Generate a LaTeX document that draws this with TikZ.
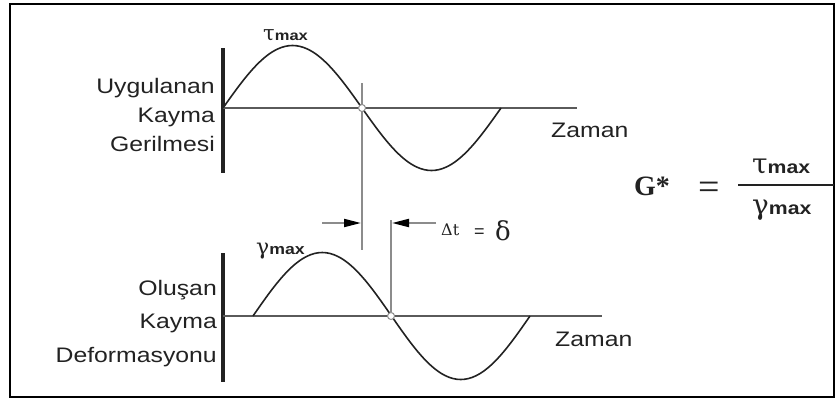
\documentclass[tikz,border=0pt]{standalone}
\usepackage{fontspec}
\setmainfont{Liberation Serif}
\newfontfamily\lblfont[FakeStretch=1.18]{Liberation Sans}
\newfontfamily\sansfont{Liberation Sans}
\newfontfamily\grkfont{DejaVu Serif}
\usetikzlibrary{arrows.meta}
\definecolor{ink}{HTML}{222222}
\definecolor{axisgrey}{HTML}{5A5A5A}
\definecolor{markgrey}{HTML}{8C8C8C}
\newcommand{\maxsub}[1]{{\lblfont\bfseries\fontsize{#1}{#1}\selectfont max}}
\newcommand{\grk}[2]{{\grkfont\fontsize{#1}{#1}\selectfont #2}}

\begin{document}
\begin{tikzpicture}[x=1pt, y=-1pt,
  lbl/.style={inner sep=0, text=ink, font=\lblfont\fontsize{21}{21}\selectfont},
  sym/.style={inner sep=0, text=ink},
  axisline/.style={axisgrey, line width=2.2pt},
  bar/.style={ink, line width=3.4pt},
  wave/.style={ink, line width=1.6pt},
  marker/.style={markgrey, line width=2pt},
  dot/.style={circle, draw=markgrey, fill=white, line width=1pt, minimum size=7pt, inner sep=0},
  lagarrow/.style={markgrey, line width=2pt, -{Triangle[length=17pt, width=8pt, color=black]}}]
  \useasboundingbox (0,0) rectangle (837,399);
  \draw[line width=2pt] (10,4) rectangle (834,397);

  % applied shear stress (top)
  \draw[bar] (223,48) -- (223,173);
  \draw[axisline] (223,108) -- (577,108);
  \draw[wave] plot[domain=0:360, samples=73, smooth] ({223+\x/360*278}, {108-62.5*sin(\x)});
  \draw[marker] (362,83) -- (362,250);
  \node[dot] (cross1) at (362,108) {};
  \node[sym, anchor=base west] (taumax) at (263,40) {\grk{21}{τ}\maxsub{14}};
  \node[lbl, anchor=base east] (ug1) at (215,93) {Uygulanan};
  \node[lbl, anchor=base east] (ug2) at (215,122) {Kayma};
  \node[lbl, anchor=base east] (ug3) at (215,151) {Gerilmesi};
  \node[lbl, anchor=base west] (zaman1) at (551,137) {Zaman};

  % resulting shear strain (bottom)
  \draw[bar] (223,253) -- (223,382);
  \draw[axisline] (223,316) -- (602,316);
  \draw[wave] plot[domain=0:360, samples=73, smooth] ({253+\x/360*277}, {316-63.5*sin(\x)});
  \draw[marker] (391,220) -- (391,312);
  \node[dot] (cross2) at (391,316) {};
  \node[sym, anchor=base west] (gammamax) at (256,254) {\grk{22}{γ}\maxsub{15}};
  \node[lbl, anchor=base east] (ol1) at (217,295) {Oluşan};
  \node[lbl, anchor=base east] (ol2) at (217,328) {Kayma};
  \node[lbl, anchor=base east] (ol3) at (217,362) {Deformasyonu};
  \node[lbl, anchor=base west] (zaman2) at (555,346) {Zaman};

  % phase lag
  \coordinate (lagL) at (322,223);
  \coordinate (lagA) at (361,223);
  \coordinate (lagB) at (392,223);
  \coordinate (lagR) at (436,223);
  \draw[lagarrow] (lagL) -- (lagA);
  \draw[lagarrow] (lagR) -- (lagB);
  \node[sym, anchor=base west] (dt) at (441,235) {\grk{16}{Δt}};
  \node[sym, anchor=base west] (dteq) at (474,237) {\sansfont\fontsize{18}{18}\selectfont =};
  \node[sym, anchor=base west] (delta) at (495,240) {\grk{26}{δ}};

  % complex modulus
  \node[sym, anchor=base west] (gstar) at (634,195) {\fontsize{28}{28}\selectfont\bfseries G*};
  \node[sym, anchor=base west] (geq) at (698,199) {\fontsize{38}{38}\selectfont =};
  \node[sym, anchor=base west] (num) at (752,173) {\grk{28}{τ}\maxsub{18}};
  \node[sym, anchor=base west] (den) at (752,214) {\grk{28}{γ}\maxsub{18}};
  \draw[ink, line width=1.8pt] (738,185) -- (834,185);
\end{tikzpicture}
\end{document}
